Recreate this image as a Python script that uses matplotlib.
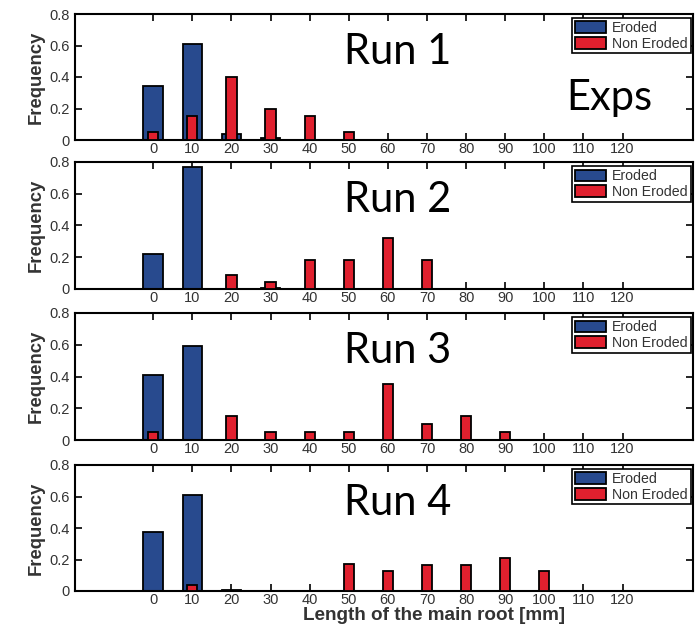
import matplotlib.pyplot as plt
import numpy as np

# root length bins [mm]
bins = [0, 10, 20, 30, 40, 50, 60, 70, 80, 90, 100, 110, 120]

# frequencies read per run (eroded / non eroded)
eroded_run1 = [0.34, 0.61, 0.035, 0.01, 0, 0, 0, 0, 0, 0, 0, 0, 0]
nonero_run1 = [0.05, 0.15, 0.40, 0.20, 0.15, 0.05, 0, 0, 0, 0, 0, 0, 0]
eroded_run2 = [0.22, 0.77, 0, 0.005, 0, 0, 0, 0, 0, 0, 0, 0, 0]
nonero_run2 = [0, 0, 0.09, 0.045, 0.18, 0.18, 0.32, 0.18, 0, 0, 0, 0, 0]
eroded_run3 = [0.41, 0.59, 0, 0, 0, 0, 0, 0, 0, 0, 0, 0, 0]
nonero_run3 = [0.05, 0, 0.15, 0.05, 0.05, 0.05, 0.35, 0.10, 0.15, 0.05, 0, 0, 0]
eroded_run4 = [0.375, 0.61, 0.005, 0, 0, 0, 0, 0, 0, 0, 0, 0, 0]
nonero_run4 = [0, 0.04, 0, 0, 0, 0.17, 0.125, 0.165, 0.165, 0.21, 0.125, 0, 0]

runLabels = ['Run 1', 'Run 2', 'Run 3', 'Run 4']
erodedArr = [eroded_run1, eroded_run2, eroded_run3, eroded_run4]
nonEroArr = [nonero_run1, nonero_run2, nonero_run3, nonero_run4]

blue = '#284a8e'
red = '#e0202e'

plt.rcParams['font.family'] = ['Liberation Sans', 'DejaVu Sans']

fig = plt.figure(figsize=(6.97, 6.26), dpi=100)

# pixel rows of each panel (top, bottom)
panelRows = [(14, 140), (162, 289), (313, 440), (465, 591)]
W, H = 697.0, 626.0

x = np.array(bins)
for i in range(4):
    top, bot = panelRows[i]
    ax = fig.add_axes([75 / W, 1 - bot / H, 618 / W, (bot - top) / H])
    ax.bar(x, erodedArr[i], width=5, color=blue, edgecolor='black',
           linewidth=1.3, label='Eroded', zorder=2)
    ax.bar(x, nonEroArr[i], width=2.6, color=red, edgecolor='black',
           linewidth=1.3, label='Non Eroded', zorder=3)
    ax.set_xlim(-20, 138)
    ax.set_ylim(0, 0.8)
    ax.set_xticks(bins)
    ax.set_xticklabels([str(b) for b in bins])
    ax.set_yticks([0, 0.2, 0.4, 0.6, 0.8])
    ax.set_yticklabels(['0', '0.2', '0.4', '0.6', '0.8'])
    ax.tick_params(direction='in', top=True, right=True, length=5, width=1.2,
                   labelsize=10.5, labelcolor='#333333', pad=4)
    ax.tick_params(axis='x', pad=1.5)
    for s in ax.spines.values():
        s.set_linewidth(1.5)
    ax.set_ylabel('Frequency', fontsize=13.3, fontweight='bold', color='#333333', labelpad=3)
    leg = ax.legend(loc='upper right', bbox_to_anchor=(0.996, 0.965), fontsize=10.2,
                    frameon=True, fancybox=False, edgecolor='black',
                    handlelength=2.2, handleheight=0.9, handletextpad=0.4,
                    borderpad=0.2, labelspacing=0.1, borderaxespad=0.0)
    leg.get_frame().set_linewidth(1.2)
    leg.get_frame().set_alpha(1)
    for t in leg.get_texts():
        t.set_color('#333333')
    ax.text(0.435, 0.70, runLabels[i], transform=ax.transAxes, fontsize=30,
            family=['Lato', 'DejaVu Sans'], va='center', ha='left')
    if i == 0:
        ax.text(0.795, 0.33, 'Exps', transform=ax.transAxes, fontsize=30,
                family=['Lato', 'DejaVu Sans'], va='center', ha='left')
    if i == 3:
        ax.set_xlabel('Length of the main root [mm]', fontsize=13.6,
                      fontweight='bold', color='#333333', va='top')
        ax.xaxis.set_label_coords(0.581, -0.126)

plt.savefig('out.png', dpi=100)
